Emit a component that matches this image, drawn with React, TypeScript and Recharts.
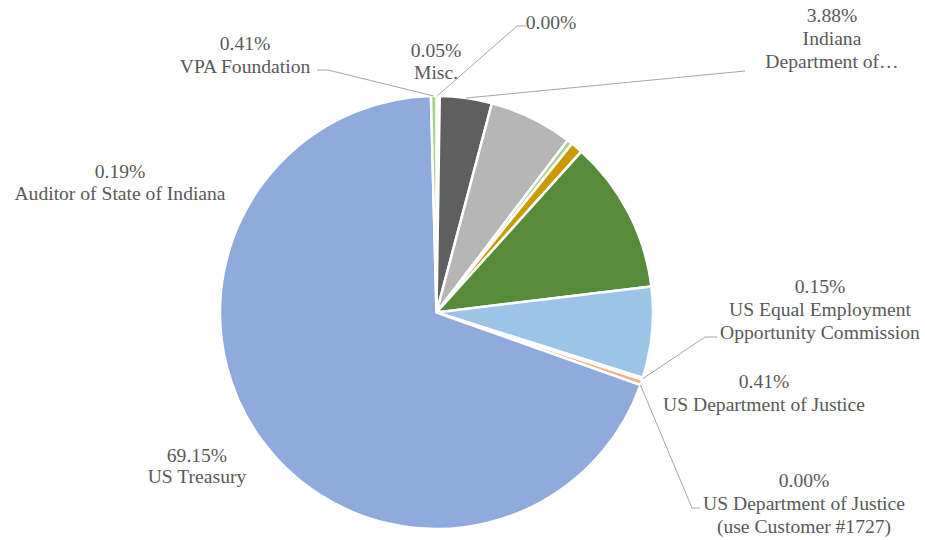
import React from 'react';
import { Cell, Pie, PieChart } from 'recharts';

// slices, clockwise from 12 o'clock (share of total, %)
const categories = [
    'Misc.',
    '',
    'Auditor of State of Indiana',
    'Indiana\nDepartment of…',
    'Slice 5',
    'Slice 6',
    'Slice 7',
    'Slice 8',
    'Slice 9',
    'US Equal Employment\nOpportunity Commission',
    'US Department of Justice',
    'US Department of Justice\n(use Customer #1727)',
    'US Treasury',
    'VPA Foundation',
];
const shares = [0.05, 0.0, 0.19, 3.88, 6.24, 0.4, 0.9, 11.42, 6.8, 0.15, 0.41, 0.0, 69.15, 0.41];
const colors = [
    '#ffe699',
    '#c5e0b4',
    '#ffd966',
    '#5f5f5f',
    '#b6b6b6',
    '#a9d18e',
    '#c99b00',
    '#568b3a',
    '#9dc3e6',
    '#f8cbad',
    '#f4b183',
    '#bdd7ee',
    '#8faadc',
    '#a9d18e',
];

// where each data label sits (centre x, centre y of each line) and its leader line start
type LabelSpot = { x: number; ys: number[]; leader?: [number, number][] };
const labelSpots: Record<string, LabelSpot> = {
    'Misc.': { x: 436, ys: [50, 72] },
    '': { x: 551, ys: [22], leader: [[526, 26], [517, 26]] },
    'Auditor of State of Indiana': { x: 120, ys: [171, 193] },
    'Indiana\nDepartment of…': { x: 832, ys: [15, 38, 61], leader: [[745, 71]] },
    'US Equal Employment\nOpportunity Commission': {
        x: 820,
        ys: [286, 309, 332],
        leader: [[717, 337], [705, 337]],
    },
    'US Department of Justice': { x: 764, ys: [381, 404] },
    'US Department of Justice\n(use Customer #1727)': {
        x: 804,
        ys: [480, 503, 526],
        leader: [[700, 508], [692, 508]],
    },
    'US Treasury': { x: 197, ys: [455, 476] },
    'VPA Foundation': { x: 245, ys: [43, 66], leader: [[317, 70], [328, 70]] },
};

const RAD = Math.PI / 180;

function renderLabel(props: any) {
    const { cx, cy, midAngle, outerRadius, name, value, index } = props;
    const spot = labelSpots[name];
    if (!spot) return null;
    const lines = [value.toFixed(2) + '%', ...String(name).split('\n').filter((s) => s)];
    let leader = null;
    if (spot.leader) {
        const ex = cx + outerRadius * Math.cos(-midAngle * RAD);
        const ey = cy + outerRadius * Math.sin(-midAngle * RAD);
        const pts = [...spot.leader, [ex, ey]].map((p) => p.join(',')).join(' ');
        leader = <polyline points={pts} fill='none' stroke='#a6a6a6' strokeWidth={1} />;
    }
    return (
        <g key={'lbl-' + index}>
            {leader}
            <text
                textAnchor='middle'
                fill='#595959'
                fontFamily='"Liberation Serif", serif'
                fontSize={19.6}
            >
                {lines.map((t, i) => (
                    <tspan key={i} x={spot.x} y={spot.ys[i]} dominantBaseline='central'>
                        {t}
                    </tspan>
                ))}
            </text>
        </g>
    );
}

function App() {
    const data = categories.map((name, i) => ({ name, value: shares[i] }));

    return (
        <div style={{ position: 'absolute', left: 0, top: 0, background: '#fff' }}>
            <PieChart width={925} height={540} margin={{ top: 0, right: 0, bottom: 0, left: 0 }}>
                <Pie
                    data={data}
                    dataKey='value'
                    nameKey='name'
                    cx={436.5}
                    cy={312.5}
                    outerRadius={216.5}
                    startAngle={90}
                    endAngle={-270}
                    stroke='#ffffff'
                    strokeWidth={2.5}
                    labelLine={false}
                    label={renderLabel}
                    isAnimationActive={false}
                >
                    {data.map((d, i) => (
                        <Cell key={d.name + i} fill={colors[i]} />
                    ))}
                </Pie>
            </PieChart>
        </div>
    );
}

export default App;
